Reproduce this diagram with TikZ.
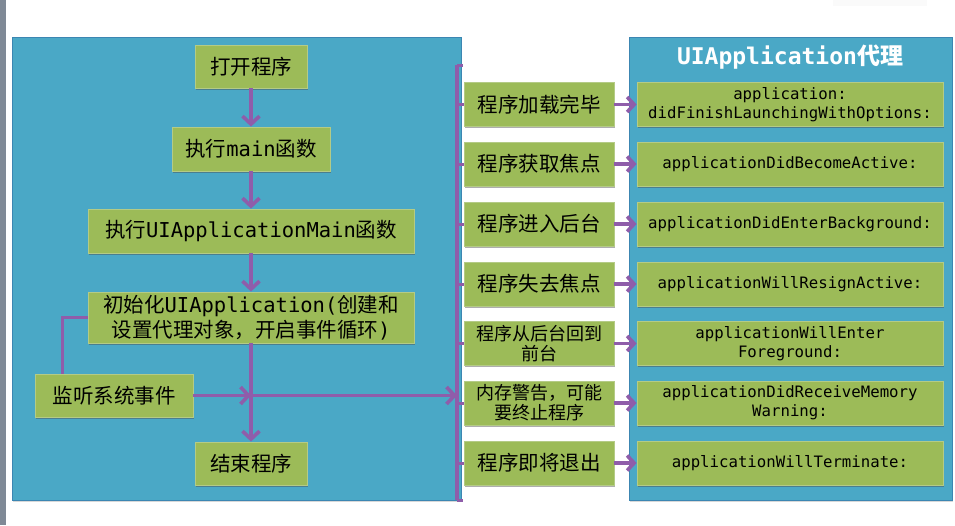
\documentclass[tikz,border=0pt]{standalone}
\usepackage{fontspec}
\setmainfont{DejaVu Sans Mono}
\newfontfamily\cjk{Noto Sans CJK SC}
\newfontfamily\monof{DejaVu Sans Mono}
\usetikzlibrary{arrows.meta,shadows}
\definecolor{panelblue}{HTML}{4AA8C6}
\definecolor{paneledge}{HTML}{3C86B2}
\definecolor{boxgreen}{HTML}{9CBB58}
\definecolor{boxedge}{HTML}{B4CB86}
\definecolor{arrowpurple}{HTML}{8F5DAA}
\definecolor{leftgray}{HTML}{7F8996}
\newcommand\Cj[1]{{\cjk #1}}
\newcommand\Mo[1]{{\monof #1}}
\tikzset{
  panelbox/.style={fill=panelblue, draw=paneledge, line width=1pt},
  greenbox/.style={fill=boxgreen, draw=boxedge, line width=0.8pt, inner sep=0pt, align=center, text=black,
    drop shadow={shadow xshift=1pt, shadow yshift=-1.5pt, opacity=0.45, fill=black!70}},
  bigtxt/.style={font=\fontsize{20.5}{25}\selectfont},
  midtxt/.style={font=\fontsize{18}{20}\selectfont},
  codetxt/.style={font=\fontsize{15.7}{19}\selectfont},
  leftbox/.style={greenbox, bigtxt},
  midbox/.style={greenbox, minimum width=150pt, minimum height=44pt},
  rightbox/.style={greenbox, codetxt, minimum width=306pt, minimum height=44pt},
  flow/.style={draw=arrowpurple, line width=3.6pt},
  flowarrow/.style={flow, -{Straight Barb[length=8pt, width=17pt]}},
  shortarrow/.style={flow, -{Straight Barb[length=7pt, width=15pt]}},
}
\begin{document}
\begin{tikzpicture}[x=1pt, y=-1pt]
\useasboundingbox (0,0) rectangle (955,525);
\fill[white] (0,0) rectangle (955,525);
\fill[leftgray] (0,0) rectangle (6,525);
\fill[black!2] (833,0) rectangle (927,6);

% panels
\path[panelbox, drop shadow={shadow xshift=1pt, shadow yshift=-1.5pt, opacity=0.3}] (12,37) rectangle (461,500);
\path[panelbox, drop shadow={shadow xshift=1pt, shadow yshift=-1.5pt, opacity=0.3}] (629,37) rectangle (952,500);

\node[text=white, font=\fontsize{23}{26}\selectfont\bfseries] (title) at (790,57) {\Mo{UIApplication}\Cj{代理}};

% left flow
\node[leftbox, minimum width=112pt, minimum height=43pt] (b1) at (251,66.5) {\Cj{打开程序}};
\node[leftbox, minimum width=158pt, minimum height=44pt] (b2) at (251,149) {\Cj{执行}\Mo{main}\Cj{函数}};
\node[leftbox, minimum width=326pt, minimum height=44pt] (b3) at (251,231) {\Cj{执行}\Mo{UIApplicationMain}\Cj{函数}};
\node[leftbox, minimum width=326pt, minimum height=51pt] (b4) at (251,317.5) {\Cj{初始化}\Mo{UIApplication(}\Cj{创建和}\\\Cj{设置代理对象，开启事件循环}\Mo{)}};
\node[leftbox, minimum width=158pt, minimum height=43pt] (b5) at (114,395.5) {\Cj{监听系统事件}};
\node[leftbox, minimum width=112pt, minimum height=43pt] (b6) at (251,463.5) {\Cj{结束程序}};

\draw[flowarrow] (b1) -- (b2);
\draw[flowarrow] (b2) -- (b3);
\draw[flowarrow] (b3) -- (b4);
\draw[flowarrow] (b4) -- (b6);

% bar
\coordinate (bartop) at (457,65);
\coordinate (barbot) at (457,500);
\draw[flow] (bartop) -- (barbot);
\draw[draw=arrowpurple, line width=3pt] (bartop) -- ++(6,0);
\draw[draw=arrowpurple, line width=3pt] (barbot) -- ++(6,0);

\coordinate (junction) at (b4.south |- b5.east);
\draw[flowarrow] (b5.east) -- (junction);
\draw[flowarrow] (junction) -- (b5.east -| bartop);
\draw[flow] ([xshift=28pt]b5.north west) |- (b4.west);

% middle column
\node[midbox, bigtxt] (m1) at (539,104.5) {\Cj{程序加载完毕}};
\node[midbox, bigtxt] (m2) at (539,164) {\Cj{程序获取焦点}};
\node[midbox, bigtxt] (m3) at (539,224) {\Cj{程序进入后台}};
\node[midbox, bigtxt] (m4) at (539,284) {\Cj{程序失去焦点}};
\node[midbox, midtxt] (m5) at (539,343.5) {\Cj{程序从后台回到}\\\Cj{前台}};
\node[midbox, midtxt] (m6) at (539,403) {\Cj{内存警告，可能}\\\Cj{要终止程序}};
\node[midbox, bigtxt] (m7) at (539,463) {\Cj{程序即将退出}};

% right column
\node[rightbox] (r1) at (790,104.5) {application:\\didFinishLaunchingWithOptions:};
\node[rightbox] (r2) at (790,164) {applicationDidBecomeActive:};
\node[rightbox] (r3) at (790,224) {applicationDidEnterBackground:};
\node[rightbox] (r4) at (790,284) {applicationWillResignActive:};
\node[rightbox] (r5) at (790,343.5) {applicationWillEnter\\Foreground:};
\node[rightbox] (r6) at (790,403) {applicationDidReceiveMemory\\Warning:};
\node[rightbox] (r7) at (790,463) {applicationWillTerminate:};

\foreach \i in {1,...,7}{
  \draw[draw=arrowpurple, line width=3pt] (m\i.west -| bartop) -- (m\i.west);
  \draw[shortarrow] (m\i.east) -- (r\i.west);
}
\end{tikzpicture}
\end{document}
